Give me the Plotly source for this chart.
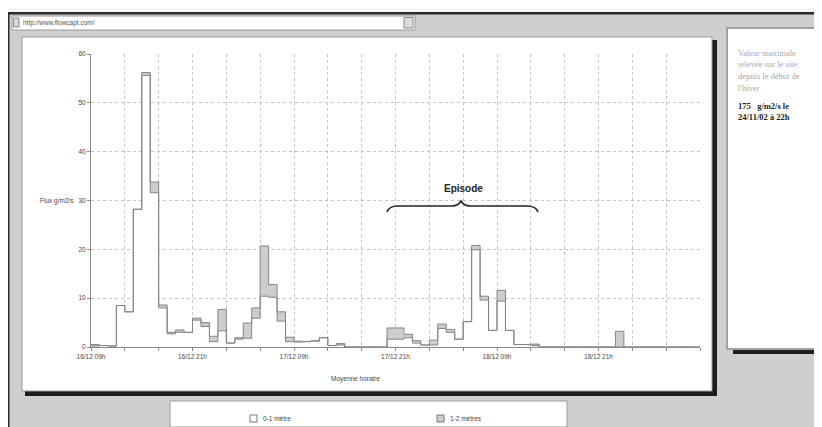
import plotly.graph_objects as go

# ---- data (hourly mean flux) ----
hours = list(range(72))  # hours since 16/12 09h
flux_0_1 = [0.2, 0.3, 0.2, 8.5, 7.2, 28.2, 55.6, 31.6, 8.0, 2.7,
            3.0, 3.0, 5.5, 4.2, 1.1, 3.3, 0.8, 1.6, 1.8, 5.9,
            10.4, 10.2, 5.3, 1.1, 1.0, 1.1, 1.2, 1.9, 0.3, 0.4,
            0, 0, 0, 0, 0, 1.6, 1.6, 1.9, 0.8, 0.4,
            0.4, 3.8, 3.0, 1.6, 5.2, 19.9, 9.6, 3.4, 9.4, 3.4,
            0.5, 0.5, 0.3, 0, 0, 0, 0, 0, 0, 0,
            0, 0, 0, 0, 0, 0, 0, 0, 0, 0,
            0, 0]
flux_1_2 = [0.3, 0, 0, 0, 0, 0, 0.6, 2.2, 0.6, 0.3,
            0.5, 0, 0.4, 0.8, 1.1, 4.4, 0, 0.3, 3.1, 2.1,
            10.3, 2.6, 1.9, 0.9, 0.2, 0, 0.1, 0, 0, 0.3,
            0, 0, 0, 0, 0, 2.3, 2.3, 0.7, 0.5, 0,
            1.0, 0.9, 0.6, 0, 0, 0.9, 0.8, 0, 2.2, 0,
            0, 0, 0.3, 0, 0, 0, 0, 0, 0, 0,
            0, 0, 3.2, 0, 0, 0, 0, 0, 0, 0,
            0, 0]
tick_hours = [0, 12, 24, 36, 48, 60]
tick_labels = ["16/12 09h", "16/12 21h", "17/12 09h", "17/12 21h", "18/12 09h", "18/12 21h"]
series_names = ["0-1 mètre", "1-2 mètres"]
y_title = "Flux g/m2/s"
x_title = "Moyenne horaire"
info_lines = ["Valeur maximale", "relevée sur le site", "depuis le début de", "l'hiver"]
info_bold = ["175   g/m2/s le", "24/11/02 à 22h"]

# the page body has an 8px margin: figure covers window pixels 8..822 / 8..427
OFF = 8
W, H = 822 - OFF, 427 - OFF
def px(x): return (x - OFF) / W
def py(y): return 1 - (y - OFF) / H

x_edges = hours + [hours[-1] + 1]
low = flux_0_1 + [flux_0_1[-1]]
tot = [a + b for a, b in zip(flux_0_1, flux_1_2)]
tot = tot + [tot[-1]]

LINE = "#858585"
fig = go.Figure()
fig.add_trace(go.Scatter(x=x_edges, y=low, mode="lines", name=series_names[0],
                         line=dict(shape="hv", color=LINE, width=1),
                         fill="tozeroy", fillcolor="white", showlegend=False))
fig.add_trace(go.Scatter(x=x_edges, y=tot, mode="lines", name=series_names[1],
                         line=dict(shape="hv", color=LINE, width=1),
                         fill="tonexty", fillcolor="#cdcdcd", showlegend=False))

shapes = []
def clamp(v): return min(max(v, 0), 1)
def rect(x0, y0, x1, y1, fill, line=None, lw=0):
    shapes.append(dict(type="rect", xref="paper", yref="paper", layer="below",
                       x0=clamp(px(x0)), x1=clamp(px(x1)), y0=clamp(py(y1)), y1=clamp(py(y0)),
                       fillcolor=fill, line=dict(color=line or fill, width=lw)))

# page top & frame
rect(8, 8, 822, 12, "#f6f6f6")
rect(8, 12, 822, 14.5, "#2a2a2a")
rect(8, 12, 9.5, 427, "#2a2a2a")
# address bar
rect(12, 16, 415, 30, "white", "#9a9a9a", 1)
rect(13.5, 18, 19, 27, "#d8d8d8", "#888", 1)
rect(404, 17.5, 413, 28, "#dcdcdc", "#888", 1)
# chart panel + shadow
rect(25, 40, 717, 396, "#1e1e1e")
rect(22, 37, 712, 391, "white", "#9a9a9a", 1)
# right info panel + shadow
rect(733, 31, 822, 354, "#1e1e1e")
rect(727, 28, 822, 349, "white", "#a0a0a0", 2)
# legend box
rect(170, 401, 567, 427, "white", "#9a9a9a", 1)
rect(250, 415, 257, 422, "white", "#777", 1)
rect(437, 415, 444, 422, "#cdcdcd", "#777", 1)

# brace over the episode
def P(x, y): return f"{px(x):.5f},{py(y):.5f}"
brace = (f"M{P(387,212)} Q{P(389,206)} {P(398,206)} L{P(452,206)} "
         f"Q{P(458,206)} {P(461,201)} Q{P(464,206)} {P(470,206)} "
         f"L{P(527,206)} Q{P(536,206)} {P(538,212)}")
shapes.append(dict(type="path", xref="paper", yref="paper", path=brace,
                   line=dict(color="#222", width=1.6)))

ann = []
def text(x, y, s, size=7, color="#333", anchor="left", family="Liberation Sans", bold=False):
    ann.append(dict(xref="paper", yref="paper", x=px(x), y=py(y), text=f"<b>{s}</b>" if bold else s,
                    showarrow=False, xanchor=anchor, yanchor="middle",
                    font=dict(size=size, color=color, family=family)))

text(21, 23, "http://www.flowcapt.com/", 6.5, "#555")
text(38, 201, y_title, 6.5, "#444")
text(355, 379, x_title, 6.5, "#444", "center")
text(463, 188, "Episode", 10, "#222", "center", bold=True)
for i, s in enumerate(info_lines):
    text(736, 53 + 11.5 * i, s, 8.5, "#a8a8a8", family="Liberation Serif")
for i, s in enumerate(info_bold):
    text(736, 106 + 11 * i, s, 8.5, "#222", family="Liberation Serif", bold=True)
text(261, 418.5, series_names[0], 6.5, "#444")
text(448, 418.5, series_names[1], 6.5, "#444")

grid = dict(showgrid=True, gridcolor="#c4c4c4", griddash="dot", gridwidth=1)
fig.update_layout(
    width=W, height=H, autosize=False,
    margin=dict(l=0, r=0, t=0, b=0, pad=0, autoexpand=False),
    paper_bgcolor="#cfcfcf", plot_bgcolor="rgba(0,0,0,0)",
    shapes=shapes, annotations=ann, showlegend=False,
    xaxis=dict(domain=[px(91), px(700)], range=[0, 72], tickvals=tick_hours, ticktext=tick_labels,
               ticks="outside", ticklen=3, tickcolor="#888", showline=True, linecolor="#888",
               zeroline=False, automargin=False,
               tickfont=dict(size=6.5, color="#444", family="Liberation Sans"),
               minor=dict(dtick=4, tick0=0, ticks="outside", ticklen=3, tickcolor="#888", **grid),
               fixedrange=True, **grid),
    yaxis=dict(domain=[py(347), py(54)], range=[0, 60], dtick=10, ticks="outside", ticklen=3,
               tickcolor="#888", showline=True, linecolor="#888", zeroline=False, automargin=False,
               tickfont=dict(size=6.5, color="#444", family="Liberation Sans"),
               fixedrange=True, **grid),
)
fig.write_html("out.html", config={"displayModeBar": False})
